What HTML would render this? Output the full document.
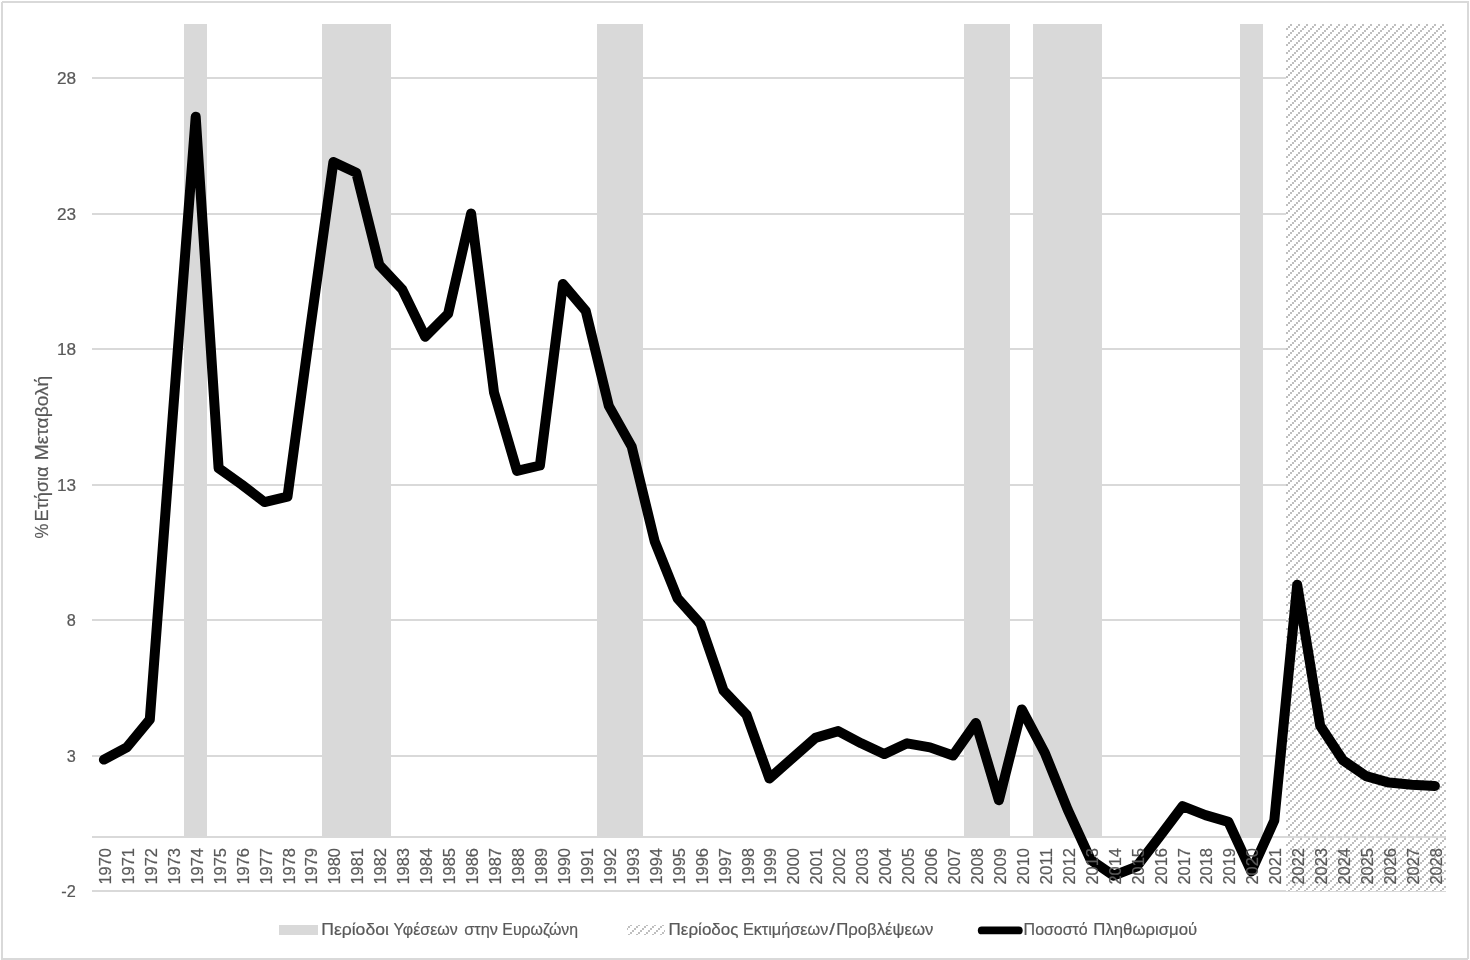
<!DOCTYPE html>
<html lang="el"><head><meta charset="utf-8"><title>Ποσοστό Πληθωρισμού</title>
<style>
html,body{margin:0;padding:0;background:#fff;}
body{width:1470px;height:960px;overflow:hidden;font-family:"Liberation Sans", sans-serif;}
svg{display:block;will-change:transform;}
text{font-family:"Liberation Sans", sans-serif;fill:#595959;stroke:#595959;stroke-width:0.2px;}
.g{stroke:#D9D9D9;stroke-width:2;shape-rendering:crispEdges;}
.b{fill:#D9D9D9;shape-rendering:crispEdges;}
.t{font-size:16.3px;}
</style></head><body>
<svg width="1470" height="960" viewBox="0 0 1470 960">
<defs>
<pattern id="hatch" patternUnits="userSpaceOnUse" x="1286" y="24" width="8" height="8">
<rect width="8" height="8" fill="#fff"/>
<g fill="#BFBFBF" shape-rendering="crispEdges">
<rect x="4" y="0" width="2" height="2"/><rect x="2" y="2" width="2" height="2"/><rect x="0" y="4" width="2" height="2"/><rect x="6" y="6" width="2" height="2"/>
</g></pattern>
</defs>
<rect x="0" y="0" width="1470" height="960" fill="#fff"/>

<line class="g" x1="92" x2="1446" y1="78" y2="78"/>
<line class="g" x1="92" x2="1446" y1="214" y2="214"/>
<line class="g" x1="92" x2="1446" y1="349" y2="349"/>
<line class="g" x1="92" x2="1446" y1="485" y2="485"/>
<line class="g" x1="92" x2="1446" y1="620" y2="620"/>
<line class="g" x1="92" x2="1446" y1="756" y2="756"/>
<line class="g" x1="92" x2="1446" y1="891" y2="891"/>
<rect class="b" x="184" y="24" width="23" height="813"/>
<rect class="b" x="322" y="24" width="69" height="813"/>
<rect class="b" x="597" y="24" width="46" height="813"/>
<rect class="b" x="964" y="24" width="46" height="813"/>
<rect class="b" x="1033" y="24" width="69" height="813"/>
<rect class="b" x="1240" y="24" width="23" height="813"/>
<rect x="1286" y="24" width="160" height="867" fill="url(#hatch)" shape-rendering="crispEdges"/>
<line class="g" x1="92" x2="1446" y1="837" y2="837"/>
<polyline points="103.9,759.6 126.8,747.4 149.8,719.5 172.7,416.7 195.7,116.8 218.6,468.2 241.6,484.5 264.5,502.1 287.5,496.7 310.4,327.3 333.4,162.0 356.3,172.8 379.3,265.0 402.2,289.4 425.2,336.8 448.1,313.8 471.1,213.5 494.0,392.4 517.0,470.9 539.9,465.5 562.9,284.0 585.8,311.1 608.8,405.9 631.7,446.6 654.7,541.4 677.6,598.3 700.6,624.1 723.5,690.5 746.5,714.8 769.4,778.5 792.3,758.2 815.3,737.9 838.2,731.1 861.2,743.3 884.1,754.1 907.1,743.3 930.0,747.4 953.0,755.5 975.9,723.0 998.9,800.2 1021.8,709.4 1044.8,752.8 1067.7,809.7 1090.7,859.8 1113.6,875.6 1136.6,866.6 1159.5,836.8 1182.5,806.2 1205.4,815.1 1228.4,821.9 1251.3,871.5 1274.3,820.5 1297.2,584.8 1320.2,725.7 1343.1,760.4 1366.1,776.1 1389.0,782.6 1412.0,784.8 1434.9,785.9" fill="none" stroke="#000" stroke-width="10" stroke-linecap="round" stroke-linejoin="round"/>
<text class="t" x="57.0" y="84.1" textLength="19.2" lengthAdjust="spacingAndGlyphs">28</text>
<text class="t" x="57.0" y="220.1" textLength="19.2" lengthAdjust="spacingAndGlyphs">23</text>
<text class="t" x="57.0" y="355.1" textLength="19.2" lengthAdjust="spacingAndGlyphs">18</text>
<text class="t" x="57.0" y="491.1" textLength="19.2" lengthAdjust="spacingAndGlyphs">13</text>
<text class="t" x="75.8" y="626.1" text-anchor="end">8</text>
<text class="t" x="75.8" y="762.1" text-anchor="end">3</text>
<text class="t" x="75.8" y="897.1" text-anchor="end">-2</text>
<text class="t" style="font-size:16px" transform="translate(110.9,884.5) rotate(-90)" textLength="36.5" lengthAdjust="spacingAndGlyphs">1970</text>
<text class="t" style="font-size:16px" transform="translate(133.8,884.5) rotate(-90)" textLength="36.5" lengthAdjust="spacingAndGlyphs">1971</text>
<text class="t" style="font-size:16px" transform="translate(156.8,884.5) rotate(-90)" textLength="36.5" lengthAdjust="spacingAndGlyphs">1972</text>
<text class="t" style="font-size:16px" transform="translate(179.7,884.5) rotate(-90)" textLength="36.5" lengthAdjust="spacingAndGlyphs">1973</text>
<text class="t" style="font-size:16px" transform="translate(202.7,884.5) rotate(-90)" textLength="36.5" lengthAdjust="spacingAndGlyphs">1974</text>
<text class="t" style="font-size:16px" transform="translate(225.6,884.5) rotate(-90)" textLength="36.5" lengthAdjust="spacingAndGlyphs">1975</text>
<text class="t" style="font-size:16px" transform="translate(248.6,884.5) rotate(-90)" textLength="36.5" lengthAdjust="spacingAndGlyphs">1976</text>
<text class="t" style="font-size:16px" transform="translate(271.5,884.5) rotate(-90)" textLength="36.5" lengthAdjust="spacingAndGlyphs">1977</text>
<text class="t" style="font-size:16px" transform="translate(294.5,884.5) rotate(-90)" textLength="36.5" lengthAdjust="spacingAndGlyphs">1978</text>
<text class="t" style="font-size:16px" transform="translate(317.4,884.5) rotate(-90)" textLength="36.5" lengthAdjust="spacingAndGlyphs">1979</text>
<text class="t" style="font-size:16px" transform="translate(340.4,884.5) rotate(-90)" textLength="36.5" lengthAdjust="spacingAndGlyphs">1980</text>
<text class="t" style="font-size:16px" transform="translate(363.3,884.5) rotate(-90)" textLength="36.5" lengthAdjust="spacingAndGlyphs">1981</text>
<text class="t" style="font-size:16px" transform="translate(386.3,884.5) rotate(-90)" textLength="36.5" lengthAdjust="spacingAndGlyphs">1982</text>
<text class="t" style="font-size:16px" transform="translate(409.2,884.5) rotate(-90)" textLength="36.5" lengthAdjust="spacingAndGlyphs">1983</text>
<text class="t" style="font-size:16px" transform="translate(432.2,884.5) rotate(-90)" textLength="36.5" lengthAdjust="spacingAndGlyphs">1984</text>
<text class="t" style="font-size:16px" transform="translate(455.1,884.5) rotate(-90)" textLength="36.5" lengthAdjust="spacingAndGlyphs">1985</text>
<text class="t" style="font-size:16px" transform="translate(478.1,884.5) rotate(-90)" textLength="36.5" lengthAdjust="spacingAndGlyphs">1986</text>
<text class="t" style="font-size:16px" transform="translate(501.0,884.5) rotate(-90)" textLength="36.5" lengthAdjust="spacingAndGlyphs">1987</text>
<text class="t" style="font-size:16px" transform="translate(524.0,884.5) rotate(-90)" textLength="36.5" lengthAdjust="spacingAndGlyphs">1988</text>
<text class="t" style="font-size:16px" transform="translate(546.9,884.5) rotate(-90)" textLength="36.5" lengthAdjust="spacingAndGlyphs">1989</text>
<text class="t" style="font-size:16px" transform="translate(569.9,884.5) rotate(-90)" textLength="36.5" lengthAdjust="spacingAndGlyphs">1990</text>
<text class="t" style="font-size:16px" transform="translate(592.8,884.5) rotate(-90)" textLength="36.5" lengthAdjust="spacingAndGlyphs">1991</text>
<text class="t" style="font-size:16px" transform="translate(615.8,884.5) rotate(-90)" textLength="36.5" lengthAdjust="spacingAndGlyphs">1992</text>
<text class="t" style="font-size:16px" transform="translate(638.7,884.5) rotate(-90)" textLength="36.5" lengthAdjust="spacingAndGlyphs">1993</text>
<text class="t" style="font-size:16px" transform="translate(661.7,884.5) rotate(-90)" textLength="36.5" lengthAdjust="spacingAndGlyphs">1994</text>
<text class="t" style="font-size:16px" transform="translate(684.6,884.5) rotate(-90)" textLength="36.5" lengthAdjust="spacingAndGlyphs">1995</text>
<text class="t" style="font-size:16px" transform="translate(707.6,884.5) rotate(-90)" textLength="36.5" lengthAdjust="spacingAndGlyphs">1996</text>
<text class="t" style="font-size:16px" transform="translate(730.5,884.5) rotate(-90)" textLength="36.5" lengthAdjust="spacingAndGlyphs">1997</text>
<text class="t" style="font-size:16px" transform="translate(753.5,884.5) rotate(-90)" textLength="36.5" lengthAdjust="spacingAndGlyphs">1998</text>
<text class="t" style="font-size:16px" transform="translate(776.4,884.5) rotate(-90)" textLength="36.5" lengthAdjust="spacingAndGlyphs">1999</text>
<text class="t" style="font-size:16px" transform="translate(799.3,884.5) rotate(-90)" textLength="36.5" lengthAdjust="spacingAndGlyphs">2000</text>
<text class="t" style="font-size:16px" transform="translate(822.3,884.5) rotate(-90)" textLength="36.5" lengthAdjust="spacingAndGlyphs">2001</text>
<text class="t" style="font-size:16px" transform="translate(845.2,884.5) rotate(-90)" textLength="36.5" lengthAdjust="spacingAndGlyphs">2002</text>
<text class="t" style="font-size:16px" transform="translate(868.2,884.5) rotate(-90)" textLength="36.5" lengthAdjust="spacingAndGlyphs">2003</text>
<text class="t" style="font-size:16px" transform="translate(891.1,884.5) rotate(-90)" textLength="36.5" lengthAdjust="spacingAndGlyphs">2004</text>
<text class="t" style="font-size:16px" transform="translate(914.1,884.5) rotate(-90)" textLength="36.5" lengthAdjust="spacingAndGlyphs">2005</text>
<text class="t" style="font-size:16px" transform="translate(937.0,884.5) rotate(-90)" textLength="36.5" lengthAdjust="spacingAndGlyphs">2006</text>
<text class="t" style="font-size:16px" transform="translate(960.0,884.5) rotate(-90)" textLength="36.5" lengthAdjust="spacingAndGlyphs">2007</text>
<text class="t" style="font-size:16px" transform="translate(982.9,884.5) rotate(-90)" textLength="36.5" lengthAdjust="spacingAndGlyphs">2008</text>
<text class="t" style="font-size:16px" transform="translate(1005.9,884.5) rotate(-90)" textLength="36.5" lengthAdjust="spacingAndGlyphs">2009</text>
<text class="t" style="font-size:16px" transform="translate(1028.8,884.5) rotate(-90)" textLength="36.5" lengthAdjust="spacingAndGlyphs">2010</text>
<text class="t" style="font-size:16px" transform="translate(1051.8,884.5) rotate(-90)" textLength="36.5" lengthAdjust="spacingAndGlyphs">2011</text>
<text class="t" style="font-size:16px" transform="translate(1074.7,884.5) rotate(-90)" textLength="36.5" lengthAdjust="spacingAndGlyphs">2012</text>
<text class="t" style="font-size:16px" transform="translate(1097.7,884.5) rotate(-90)" textLength="36.5" lengthAdjust="spacingAndGlyphs">2013</text>
<text class="t" style="font-size:16px" transform="translate(1120.6,884.5) rotate(-90)" textLength="36.5" lengthAdjust="spacingAndGlyphs">2014</text>
<text class="t" style="font-size:16px" transform="translate(1143.6,884.5) rotate(-90)" textLength="36.5" lengthAdjust="spacingAndGlyphs">2015</text>
<text class="t" style="font-size:16px" transform="translate(1166.5,884.5) rotate(-90)" textLength="36.5" lengthAdjust="spacingAndGlyphs">2016</text>
<text class="t" style="font-size:16px" transform="translate(1189.5,884.5) rotate(-90)" textLength="36.5" lengthAdjust="spacingAndGlyphs">2017</text>
<text class="t" style="font-size:16px" transform="translate(1212.4,884.5) rotate(-90)" textLength="36.5" lengthAdjust="spacingAndGlyphs">2018</text>
<text class="t" style="font-size:16px" transform="translate(1235.4,884.5) rotate(-90)" textLength="36.5" lengthAdjust="spacingAndGlyphs">2019</text>
<text class="t" style="font-size:16px" transform="translate(1258.3,884.5) rotate(-90)" textLength="36.5" lengthAdjust="spacingAndGlyphs">2020</text>
<text class="t" style="font-size:16px" transform="translate(1281.3,884.5) rotate(-90)" textLength="36.5" lengthAdjust="spacingAndGlyphs">2021</text>
<text class="t" style="font-size:16px" transform="translate(1304.2,884.5) rotate(-90)" textLength="36.5" lengthAdjust="spacingAndGlyphs">2022</text>
<text class="t" style="font-size:16px" transform="translate(1327.2,884.5) rotate(-90)" textLength="36.5" lengthAdjust="spacingAndGlyphs">2023</text>
<text class="t" style="font-size:16px" transform="translate(1350.1,884.5) rotate(-90)" textLength="36.5" lengthAdjust="spacingAndGlyphs">2024</text>
<text class="t" style="font-size:16px" transform="translate(1373.1,884.5) rotate(-90)" textLength="36.5" lengthAdjust="spacingAndGlyphs">2025</text>
<text class="t" style="font-size:16px" transform="translate(1396.0,884.5) rotate(-90)" textLength="36.5" lengthAdjust="spacingAndGlyphs">2026</text>
<text class="t" style="font-size:16px" transform="translate(1419.0,884.5) rotate(-90)" textLength="36.5" lengthAdjust="spacingAndGlyphs">2027</text>
<text class="t" style="font-size:16px" transform="translate(1441.9,884.5) rotate(-90)" textLength="36.5" lengthAdjust="spacingAndGlyphs">2028</text>
<g transform="translate(47.7,538.6) rotate(-90)"><text font-size="18.2px" y="0"><tspan x="0.0" textLength="14.76" lengthAdjust="spacingAndGlyphs">%</tspan> <tspan x="17.2" textLength="55.01" lengthAdjust="spacingAndGlyphs">Ετήσια</tspan> <tspan x="78.24" textLength="84.66" lengthAdjust="spacingAndGlyphs">Μεταβολή</tspan></text></g>
<rect class="b" x="279" y="925" width="39" height="10"/>
<text class="t" y="935"><tspan x="321.22" textLength="67.62" lengthAdjust="spacingAndGlyphs">Περίοδοι</tspan> <tspan x="393.6" textLength="64.15" lengthAdjust="spacingAndGlyphs">Υφέσεων</tspan> <tspan x="464.2" textLength="33.69" lengthAdjust="spacingAndGlyphs">στην</tspan> <tspan x="502.33" textLength="75.69" lengthAdjust="spacingAndGlyphs">Ευρωζώνη</tspan></text>
<rect x="627" y="925" width="38" height="10" fill="url(#hatch)" shape-rendering="crispEdges"/>
<text class="t" y="935"><tspan x="668.55" textLength="69.96" lengthAdjust="spacingAndGlyphs">Περίοδος</tspan> <tspan x="742.9" textLength="85.45" lengthAdjust="spacingAndGlyphs">Εκτιμήσεων</tspan><tspan x="829.3" textLength="5.7" lengthAdjust="spacingAndGlyphs">/</tspan><tspan x="836.17" textLength="97.31" lengthAdjust="spacingAndGlyphs">Προβλέψεων</tspan></text>
<line x1="981.7" x2="1018.8" y1="930.4" y2="930.4" stroke="#000" stroke-width="7.8" stroke-linecap="round"/>
<text class="t" y="935"><tspan x="1023.62" textLength="64.12" lengthAdjust="spacingAndGlyphs">Ποσοστό</tspan> <tspan x="1093.37" textLength="103.75" lengthAdjust="spacingAndGlyphs">Πληθωρισμού</tspan></text>
<rect x="2" y="2" width="1466" height="957" rx="1" fill="none" stroke="#D9D9D9" stroke-width="2" shape-rendering="crispEdges"/>
</svg></body></html>
